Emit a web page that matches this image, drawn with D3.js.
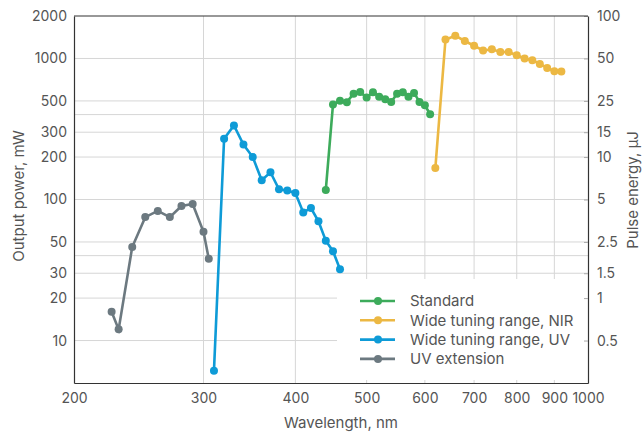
<!DOCTYPE html>
<html>
<head>
<meta charset="utf-8">
<script src="https://cdn.jsdelivr.net/npm/d3@7"></script>
<style>
  body { margin: 0; background: #fff; }
  text { font-family: Inter, "Liberation Sans", sans-serif; fill: #555; }
</style>
</head>
<body>
<div id="chart"></div>
<script>
// values
var uvExtWl = [225, 230, 240, 250, 260, 270, 280, 290, 300, 305];
var uvExtPower = [16, 12, 46, 75, 83, 75, 90, 93, 59, 38];

var wideUvWl = [310, 320, 330, 340, 350, 360, 370, 380, 390, 400, 410, 420, 430, 440, 450, 460];
var wideUvPower = [6.1, 270, 335, 245, 200, 137, 156, 118, 116, 111, 81, 87, 70, 51, 43, 32];

var standardWl = [440, 450, 460, 470, 480, 490, 500, 510, 520, 530, 540, 550, 560, 570, 580, 590, 600, 610];
var standardPower = [117, 471, 502, 490, 563, 579, 528, 576, 536, 514, 492, 563, 576, 536, 570, 492, 466, 402];

var wideNirWl = [620, 640, 660, 680, 700, 720, 740, 760, 780, 800, 820, 840, 860, 880, 900, 920];
var wideNirPower = [167, 1360, 1450, 1330, 1230, 1140, 1160, 1110, 1110, 1055, 1000, 970, 915, 857, 812, 807];

var xTicks = [200, 300, 400, 500, 600, 700, 800, 900, 1000];
var yTicks = [10, 20, 30, 50, 100, 200, 300, 500, 1000, 2000];
var yGrid = [10, 20, 30, 40, 50, 100, 200, 300, 400, 500, 1000];
var y2Ticks = [0.5, 1, 1.5, 2.5, 5, 10, 15, 25, 50, 100];

var legendNames = ['Standard', 'Wide tuning range, NIR', 'Wide tuning range, UV', 'UV extension'];
var colors = ['#3dab5b', '#ecb843', '#0e9bd7', '#6c7980'];

var series = [
  {name: legendNames[0], color: colors[0], wl: standardWl, p: standardPower},
  {name: legendNames[1], color: colors[1], wl: wideNirWl, p: wideNirPower},
  {name: legendNames[2], color: colors[2], wl: wideUvWl, p: wideUvPower},
  {name: legendNames[3], color: colors[3], wl: uvExtWl, p: uvExtPower}
];

var W = 644, H = 435;
var m = {left: 74, right: 588, top: 16, bottom: 383};

var svg = d3.select('#chart').append('svg')
  .attr('width', W)
  .attr('height', H);

var x = d3.scaleLog().domain([200, 1000]).range([m.left, m.right]);
var y = d3.scaleLog().domain([5, 2000]).range([m.bottom, m.top]);
var y2 = d3.scaleLog().domain([0.25, 100]).range([m.bottom, m.top]);

// grid
svg.append('g').selectAll('line')
  .data(yGrid).enter().append('line')
  .attr('x1', m.left).attr('x2', m.right)
  .attr('y1', function(d) { return y(d); })
  .attr('y2', function(d) { return y(d); })
  .attr('stroke', '#d6d6d6').attr('stroke-width', 1);

svg.append('g').selectAll('line')
  .data(xTicks.slice(1, -1)).enter().append('line')
  .attr('x1', function(d) { return x(d); })
  .attr('x2', function(d) { return x(d); })
  .attr('y1', m.top).attr('y2', m.bottom)
  .attr('stroke', '#d6d6d6').attr('stroke-width', 1);

// legend background hides grid
svg.append('rect')
  .attr('x', 337).attr('y', 279)
  .attr('width', m.right - 337).attr('height', 101)
  .attr('fill', '#fff');

// axes
var fmt = function(d) { return String(d); };

var axisB = svg.append('g')
  .attr('transform', 'translate(0,' + m.bottom + ')')
  .call(d3.axisBottom(x).tickValues(xTicks).tickFormat(fmt).tickSize(0).tickPadding(10));

var axisL = svg.append('g')
  .attr('transform', 'translate(' + m.left + ',0)')
  .call(d3.axisLeft(y).tickValues(yTicks).tickFormat(fmt).tickSize(0).tickPadding(7));

var axisR = svg.append('g')
  .attr('transform', 'translate(' + m.right + ',0)')
  .call(d3.axisRight(y2).tickValues(y2Ticks).tickFormat(fmt).tickSizeInner(-4).tickSizeOuter(0).tickPadding(9));

[axisB, axisL, axisR].forEach(function(a) {
  a.select('.domain').attr('stroke', '#333').attr('stroke-width', 1.2);
  a.selectAll('.tick line').attr('stroke', '#aaa');
  a.selectAll('text').style('font-size', '14px').attr('fill', '#555');
});

// top frame
svg.append('line')
  .attr('x1', m.left).attr('x2', m.right)
  .attr('y1', m.top).attr('y2', m.top)
  .attr('stroke', '#333').attr('stroke-width', 1.2);

// axis titles
svg.append('text')
  .attr('transform', 'translate(24,196) rotate(-90)')
  .attr('text-anchor', 'middle')
  .style('font-size', '15px')
  .text('Output power, mW');

svg.append('text')
  .attr('transform', 'translate(638,190) rotate(-90)')
  .attr('text-anchor', 'middle')
  .style('font-size', '15px')
  .text('Pulse energy, µJ');

svg.append('text')
  .attr('x', (m.left + m.right) / 2 + 10).attr('y', 428)
  .attr('text-anchor', 'middle')
  .style('font-size', '15px')
  .text('Wavelength, nm');

// series
var line = d3.line()
  .x(function(d) { return x(d[0]); })
  .y(function(d) { return y(d[1]); });

series.slice().reverse().forEach(function(s) {
  var pts = s.wl.map(function(w, i) { return [w, s.p[i]]; });
  var g = svg.append('g');
  g.append('path')
    .datum(pts)
    .attr('d', line)
    .attr('fill', 'none')
    .attr('stroke', s.color)
    .attr('stroke-width', 2.6);
  g.selectAll('circle')
    .data(pts).enter().append('circle')
    .attr('cx', function(d) { return x(d[0]); })
    .attr('cy', function(d) { return y(d[1]); })
    .attr('r', 4)
    .attr('fill', s.color);
});

// legend
var lg = svg.append('g').attr('transform', 'translate(360,301)');
var items = lg.selectAll('g').data(series).enter().append('g')
  .attr('transform', function(d, i) { return 'translate(0,' + (i * 19.3) + ')'; });
items.append('line')
  .attr('x1', 0).attr('x2', 35)
  .attr('stroke', function(d) { return d.color; })
  .attr('stroke-width', 2.6);
items.append('circle')
  .attr('cx', 18).attr('r', 4)
  .attr('fill', function(d) { return d.color; });
items.append('text')
  .attr('x', 50).attr('dy', '0.35em')
  .style('font-size', '15px')
  .text(function(d) { return d.name; });
</script>
</body>
</html>
